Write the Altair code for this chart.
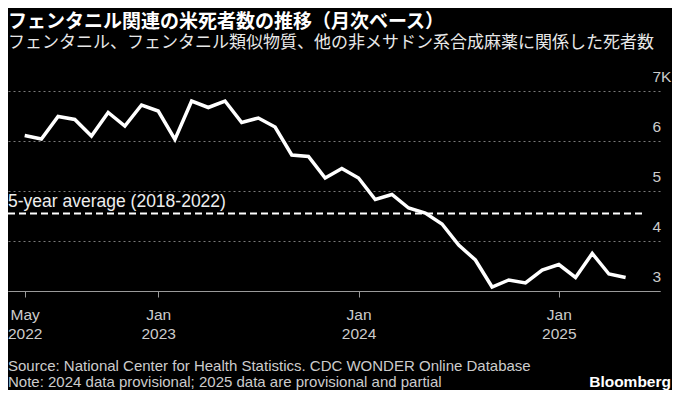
import altair as alt
import pandas as pd

# ---- data (monthly deaths, thousands) ----
month_index = list(range(37))  # 0 = May 2022 ... 36 = May 2025
deaths_k = [6.11, 6.04, 6.49, 6.43, 6.10, 6.57, 6.30, 6.72, 6.60, 6.03,
            6.80, 6.67, 6.80, 6.37, 6.46, 6.28, 5.72, 5.69, 5.26, 5.45,
            5.26, 4.83, 4.93, 4.66, 4.56, 4.34, 3.92, 3.62, 3.08, 3.22,
            3.16, 3.42, 3.53, 3.27, 3.75, 3.34, 3.27]

tick_idx = [0, 8, 20, 32]
tick_month = ["May", "Jan", "Jan", "Jan"]
tick_year = ["2022", "2023", "2024", "2025"]

y_ticks = [3, 4, 5, 6, 7]

avg_value = [4.55]
avg_start = [-1.0]
avg_end = [37.2]
avg_label = ["5-year average (2018-2022)"]

title_text = "フェンタニル関連の米死者数の推移（月次ベース）"
subtitle_text = "フェンタニル、フェンタニル類似物質、他の非メサドン系合成麻薬に関係した死者数"
source_text = "Source: National Center for Health Statistics. CDC WONDER Online Database"
note_text = "Note: 2024 data provisional; 2025 data are provisional and partial"
brand_text = "Bloomberg"

# ---- styling ----
SANS = "Liberation Sans, Arial, DejaVu Sans"
CJK = "Noto Sans CJK JP"
W, H = 652, 200

df = pd.DataFrame({"idx": month_index, "deaths": deaths_k})
avg_df = pd.DataFrame({"x": avg_start, "x2": avg_end, "y": avg_value, "label": avg_label})

label_expr = " : ".join(
    f"datum.value == {v} ? ['{m}', '{y}']" for v, m, y in zip(tick_idx, tick_month, tick_year)
) + " : ''"

x_scale = alt.Scale(domain=[-1.0, 38.06], nice=False, zero=False)
y_scale = alt.Scale(domain=[3, 7], nice=False, zero=False)

x_enc = alt.X(
    "idx:Q", scale=x_scale,
    axis=alt.Axis(values=tick_idx, labelExpr=label_expr, title=None, grid=False,
                  domainColor="#9a9a9a", tickColor="#9a9a9a", tickSize=6,
                  labelFont=SANS, labelFontSize=15.5, labelColor="#cccccc",
                  labelLineHeight=19, labelBaseline="top", labelPadding=10,
                  labelAlign="center", labelFlush=False, labelOverlap=False),
)
y_enc = alt.Y(
    "deaths:Q", scale=y_scale,
    axis=alt.Axis(orient="right", values=y_ticks,
                  labelExpr="datum.value == 7 ? '7K' : datum.label",
                  title=None, domain=False, ticks=False, tickSize=0, grid=True,
                  gridColor="#7a7a7a", gridDash=[2, 3], gridWidth=1,
                  labelAlign="left", labelBaseline="alphabetic", labelOffset=-10,
                  labelPadding=-8, labelFont=SANS, labelFontSize=15.5,
                  labelColor="#cccccc", labelFlush=False, labelOverlap=False),
)

line = alt.Chart(df).mark_line(color="white", strokeWidth=3.5).encode(x=x_enc, y=y_enc)

avg_rule = alt.Chart(avg_df).mark_rule(color="white", strokeWidth=2, strokeDash=[7, 4]).encode(
    x=alt.X("x:Q", scale=x_scale), x2="x2:Q", y=alt.Y("y:Q", scale=y_scale)
)
avg_text = alt.Chart(avg_df).mark_text(
    align="left", baseline="alphabetic", dy=-7, font=SANS, fontSize=17.5, color="#eeeeee"
).encode(x=alt.X("x:Q", scale=x_scale), y=alt.Y("y:Q", scale=y_scale), text="label:N")


def txt(s, x, y, **kw):
    return alt.Chart(pd.DataFrame({"t": [s]})).mark_text(baseline="alphabetic", **kw).encode(
        x=alt.value(x), y=alt.value(y), text="t:N"
    )


title = txt(title_text, 0, -63, align="left", font=CJK, fontSize=19, fontWeight="bold", color="white")
subtitle = txt(subtitle_text, 0, -43.5, align="left", font=CJK, fontSize=17, color="#e8e8e8")
source = txt(source_text, 0, 280, align="left", font=SANS, fontSize=15, color="#cccccc")
note = txt(note_text, 0, 296, align="left", font=SANS, fontSize=15, color="#cccccc")
brand = txt(brand_text, 663, 296, align="right", font=SANS, fontSize=15.5, fontWeight="bold", color="white")

chart = alt.layer(line, avg_rule, avg_text, title, subtitle, source, note, brand).properties(
    width=W, height=H,
    autosize=alt.AutoSizeParams(type="none"),
    padding={"left": 0, "top": 83, "right": 12, "bottom": 99},
    background="black",
).configure_view(stroke=None)

chart.save("out.html", embed_options={"renderer": "svg", "actions": False})
